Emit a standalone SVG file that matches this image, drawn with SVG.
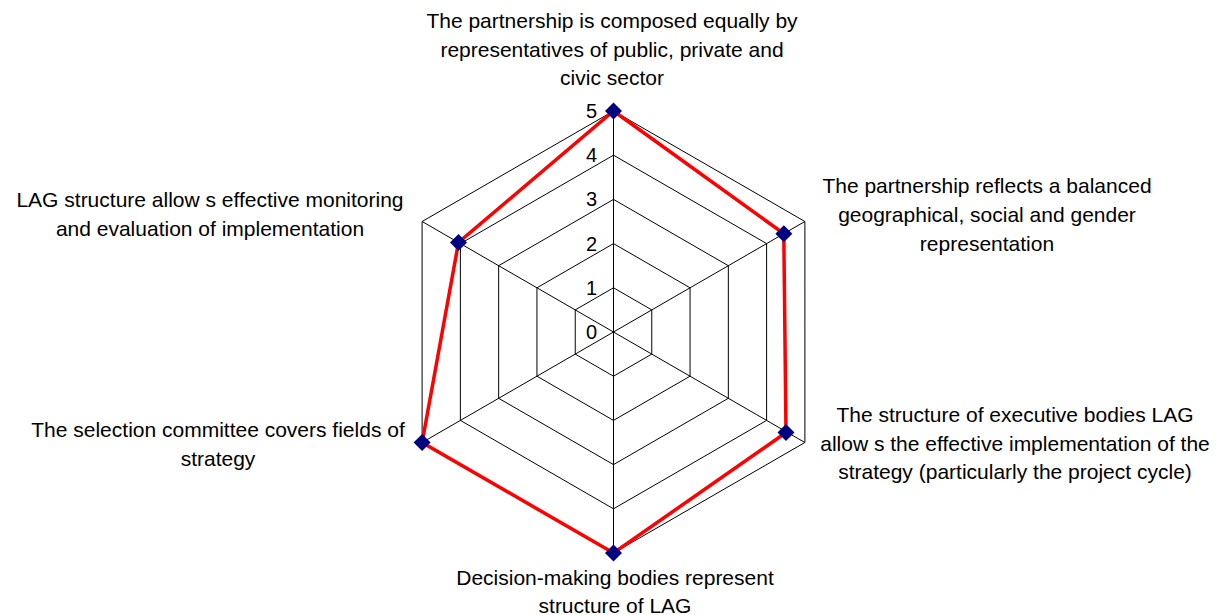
<svg xmlns="http://www.w3.org/2000/svg" width="1220" height="615" viewBox="0 0 1220 615">
<style>
.grid{fill:none;stroke:#000;stroke-width:1}
.lbl{font-family:"Liberation Sans",Arial,sans-serif;font-size:21px;fill:#000;text-anchor:middle}
.tick{font-family:"Liberation Sans",Arial,sans-serif;font-size:20px;fill:#000;text-anchor:end;dominant-baseline:central}
.series{fill:none;stroke:#FF0000;stroke-width:3.5;stroke-linejoin:miter}
.mk{fill:#000080}
</style>
<defs>
<path id="dia" d="M0,-8.5 L8.5,0 L0,8.5 L-8.5,0 Z"/>
</defs>
<rect width="1220" height="615" fill="#fff"/>
<g id="grid">
<polygon class="grid" points="613.5,287.8 651.78,309.9 651.78,354.1 613.5,376.2 575.22,354.1 575.22,309.9"/>
<polygon class="grid" points="613.5,243.6 690.06,287.8 690.06,376.2 613.5,420.4 536.94,376.2 536.94,287.8"/>
<polygon class="grid" points="613.5,199.4 728.34,265.7 728.34,398.3 613.5,464.6 498.66,398.3 498.66,265.7"/>
<polygon class="grid" points="613.5,155.2 766.61,243.6 766.61,420.4 613.5,508.8 460.39,420.4 460.39,243.6"/>
<polygon class="grid" points="613.5,111 804.89,221.5 804.89,442.5 613.5,553 422.11,442.5 422.11,221.5"/>
<path class="grid" d="M613.5,332 L613.5,111 M613.5,332 L804.89,221.5 M613.5,332 L804.89,442.5 M613.5,332 L613.5,553 M613.5,332 L422.11,442.5 M613.5,332 L422.11,221.5"/>
</g>
<g id="ticks">
<text class="tick" x="597" y="332">0</text>
<text class="tick" x="597" y="287.8">1</text>
<text class="tick" x="597" y="243.6">2</text>
<text class="tick" x="597" y="199.4">3</text>
<text class="tick" x="597" y="155.2">4</text>
<text class="tick" x="597" y="111">5</text>
</g>
<g id="connectors">
<polygon class="series" points="613.5,111 783.8,233.7 786,432.5 613.5,553 422.11,442.5 458.5,242.5"/>
</g>
<g id="markers">
<use href="#dia" class="mk" x="613.5" y="111"/>
<use href="#dia" class="mk" x="783.8" y="233.7"/>
<use href="#dia" class="mk" x="786" y="432.5"/>
<use href="#dia" class="mk" x="613.5" y="553"/>
<use href="#dia" class="mk" x="422.11" y="442.5"/>
<use href="#dia" class="mk" x="458.5" y="242.5"/>
</g>
<g id="node-top">
<text class="lbl" x="612" y="28">The partnership is composed equally by</text>
<text class="lbl" x="612" y="57">representatives of public, private and</text>
<text class="lbl" x="612" y="85">civic sector</text>
</g>
<g id="node-upper-right">
<text class="lbl" x="987" y="193">The partnership reflects a balanced</text>
<text class="lbl" x="987" y="222">geographical, social and gender</text>
<text class="lbl" x="987" y="251">representation</text>
</g>
<g id="node-lower-right">
<text class="lbl" x="1015" y="422">The structure of executive bodies LAG</text>
<text class="lbl" x="1015" y="451">allow s the effective implementation of the</text>
<text class="lbl" x="1015" y="479">strategy (particularly the project cycle)</text>
</g>
<g id="node-bottom">
<text class="lbl" x="615" y="585">Decision-making bodies represent</text>
<text class="lbl" x="615" y="613">structure of LAG</text>
</g>
<g id="node-lower-left">
<text class="lbl" x="218" y="437">The selection committee covers fields of</text>
<text class="lbl" x="218" y="466">strategy</text>
</g>
<g id="node-upper-left">
<text class="lbl" x="210" y="207">LAG structure allow s effective monitoring</text>
<text class="lbl" x="210" y="236">and evaluation of implementation</text>
</g>
</svg>
